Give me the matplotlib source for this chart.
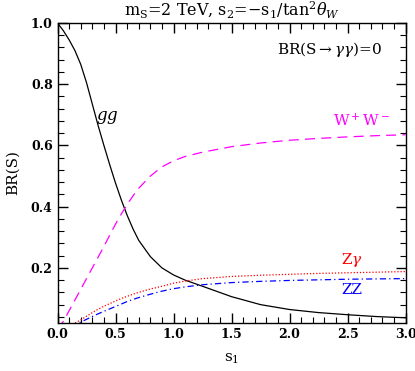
import numpy as np
import matplotlib
matplotlib.use("Agg")
import matplotlib.pyplot as plt
from matplotlib.ticker import MultipleLocator

# values
s1 = [0.0, 0.05, 0.1, 0.15, 0.2, 0.25, 0.3, 0.35, 0.4, 0.45, 0.5, 0.55, 0.6, 0.65, 0.7, 0.8, 0.9,
      1.0, 1.1, 1.25, 1.5, 1.75, 2.0, 2.25, 2.5, 2.75, 3.0]
br_gg = [1.0, 0.975, 0.945, 0.91, 0.865, 0.805, 0.735, 0.665, 0.6, 0.537, 0.477, 0.422, 0.372, 0.328, 0.29, 0.237, 0.2,
         0.177, 0.16, 0.14, 0.106, 0.08, 0.064, 0.054, 0.047, 0.041, 0.037]
br_ww = [0.0, 0.025, 0.06, 0.095, 0.13, 0.165, 0.2, 0.235, 0.27, 0.307, 0.343, 0.376, 0.407, 0.435, 0.46, 0.5, 0.53,
         0.55, 0.564, 0.578, 0.596, 0.608, 0.617, 0.623, 0.628, 0.632, 0.635]
br_zg = [0.0, 0.003, 0.01, 0.02, 0.03, 0.042, 0.054, 0.065, 0.075, 0.083, 0.092, 0.1, 0.107, 0.114, 0.12, 0.131, 0.14,
         0.15, 0.157, 0.165, 0.172, 0.176, 0.179, 0.182, 0.184, 0.186, 0.188]
br_zz = [0.0, 0.003, 0.008, 0.015, 0.023, 0.032, 0.041, 0.05, 0.058, 0.066, 0.074, 0.082, 0.09, 0.097, 0.103, 0.114, 0.124,
         0.132, 0.138, 0.145, 0.152, 0.156, 0.159, 0.161, 0.163, 0.164, 0.165]

plt.rcParams['font.family'] = ['DejaVu Serif']
plt.rcParams['mathtext.fontset'] = 'dejavuserif'

fig = plt.figure(figsize=(4.15, 3.71), dpi=100)
ax = fig.add_axes([0.1386, 0.1294, 0.8386, 0.8086])

ax.plot(s1, br_gg, color='black', lw=0.9)
ax.plot(s1, br_ww, color='magenta', lw=0.9, dashes=(8, 5))
ax.plot(s1, br_zg, color='red', lw=0.9, linestyle=(0, (1, 1.5)))
ax.plot(s1, br_zz, color='blue', lw=0.9, dashes=(5, 2.5, 1, 2.5))

ax.set_xlim(0, 3.0)
ax.set_ylim(0.02, 1.0)
ax.xaxis.set_major_locator(MultipleLocator(0.5))
ax.xaxis.set_minor_locator(MultipleLocator(0.1))
ax.yaxis.set_minor_locator(MultipleLocator(0.04))
ax.set_yticks([0.2, 0.4, 0.6, 0.8, 1.0])
ax.tick_params(which='both', direction='in', top=True, right=True)
ax.tick_params(which='major', length=7, width=1)
ax.tick_params(which='minor', length=4, width=0.8)
for lab in ax.get_xticklabels() + ax.get_yticklabels():
    lab.set_fontweight('bold')
    lab.set_fontsize(9)
for sp in ax.spines.values():
    sp.set_linewidth(1.0)

ax.set_xlabel('s$_1$', fontsize=11, labelpad=8)
ax.set_ylabel('BR(S)', fontsize=11, labelpad=8)
ax.set_title(r'm$_\mathrm{S}$=2 TeV, s$_2$=$-$s$_1$/tan$^2\theta_W$', fontsize=11.5, pad=5)

ax.text(0.43, 0.69, r'$gg$', fontsize=12, ha='center', va='center')
ax.text(2.62, 0.68, r'W$^+$W$^-$', fontsize=11, color='magenta', ha='center', va='center')
ax.text(2.54, 0.227, r'Z$\gamma$', fontsize=11, color='red', ha='center', va='center')
ax.text(2.54, 0.127, 'ZZ', fontsize=11, color='blue', ha='center', va='center')
ax.text(2.80, 0.915, r'BR(S$\rightarrow\gamma\gamma$)=0', fontsize=11, ha='right', va='center')

fig.savefig('out.png', dpi=100)
